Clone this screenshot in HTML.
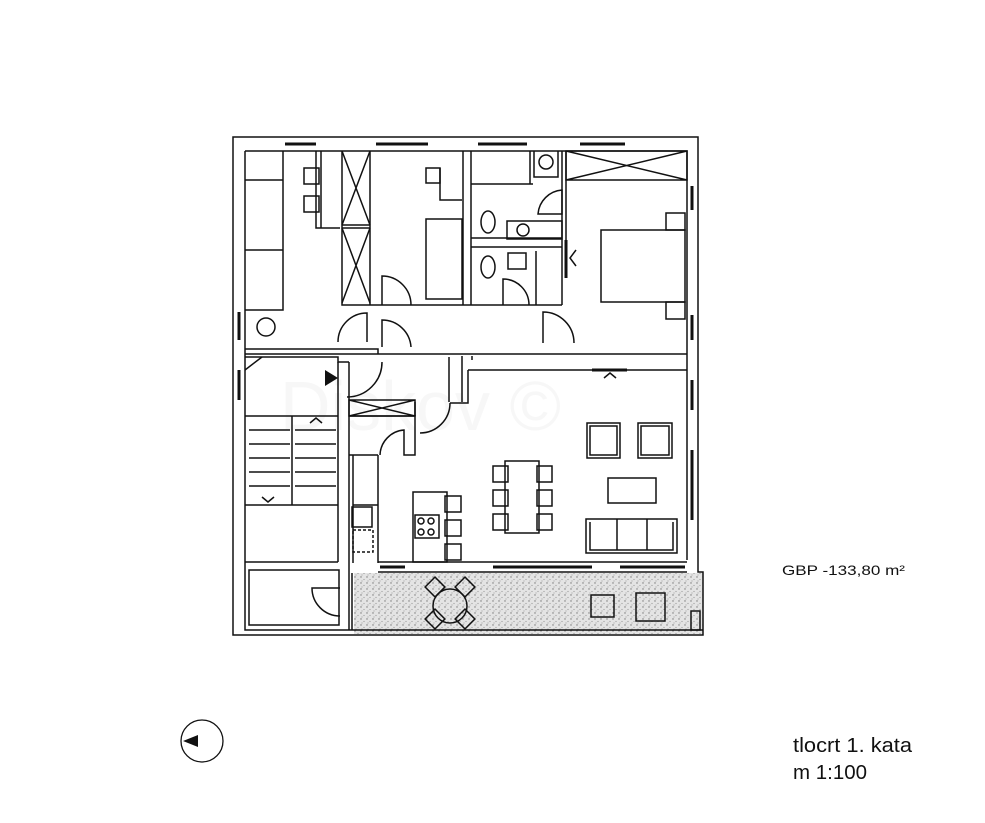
<!DOCTYPE html>
<html><head><meta charset="utf-8"><style>
html,body{margin:0;padding:0;background:#fff;}
svg{display:block;font-family:"Liberation Sans",Arial,sans-serif;}
</style></head><body>
<svg width="985" height="823" viewBox="0 0 985 823" xmlns="http://www.w3.org/2000/svg">
<defs>
<pattern id="dots" width="6" height="6" patternUnits="userSpaceOnUse">
<rect width="6" height="6" fill="#e4e4e4"/>
<circle cx="1" cy="1" r="0.7" fill="#777"/><circle cx="4" cy="3.5" r="0.6" fill="#999"/><circle cx="2" cy="5" r="0.5" fill="#888"/>
</pattern>
</defs>
<text x="280" y="430" font-size="70" fill="#f7f7f7">Diskov ©</text>
<g fill="none" stroke="#111" stroke-width="1.5">
<rect x="354" y="573" width="349" height="61" fill="url(#dots)" stroke="none"/>
<path d="M233,137 H698 V572 H703 V635 H233 Z"/>
<path d="M245,151 H687 V560 M245,151 V630 H352 V573 M352,630 H703"/>
<path d="M245,349 H378 V354 H687 M378,354 H245"/>
<path d="M245,357 H338 V362 H349 M462,356 V370 M468,370 H687 M472,356 V360"/>
<path d="M342,151 V305 H562 M370,151 V305 M463,151 V305 M471,151 V305 M562,151 V305 M566,151 V250"/>
<path d="M342,151 L370,225 M370,151 L342,225 M342,225 H370 M342,228 H370 M342,228 L370,303 M370,228 L342,303"/>
<path d="M245,250 H283 M245,180 H283 V310 H245 M283,180 V151"/>
<path d="M316,151 V228 H340 M316,228 H340 M321,151 V228"/>
<rect x="304" y="168" width="15" height="16"/><rect x="304" y="196" width="15" height="16"/>
<circle cx="266" cy="327" r="9"/>
<rect x="426" y="219" width="36" height="80"/>
<rect x="426" y="168" width="14" height="15"/>
<path d="M440,168 V200 H462"/>
<path d="M471,184 H530 V151 M530,184 H533 M534,151 V177 H558 V151"/>
<circle cx="546" cy="162" r="7"/>
<path d="M471,238 H562 M471,247 H562"/>
<rect x="507" y="221" width="55" height="18"/><circle cx="523" cy="230" r="6"/>
<rect x="508" y="253" width="18" height="16"/>
<ellipse cx="488" cy="222" rx="7" ry="11"/><ellipse cx="488" cy="267" rx="7" ry="11"/>
<path d="M536,251 V305"/>
<path d="M566,151 H687 V180 H566 Z M566,151 L687,180 M687,151 L566,180"/>
<rect x="601" y="230" width="84" height="72"/><rect x="666" y="213" width="19" height="17"/><rect x="666" y="302" width="19" height="17"/>
<path d="M566,240 V278" stroke-width="3"/><path d="M576,250 L570,258 L576,266"/>
<path d="M382,305 V276 A29,29 0 0 1 411,305"/>
<path d="M503,305 V279 A26,26 0 0 1 529,305"/>
<path d="M538,214 A26,26 0 0 1 562,190 V214 Z"/>
<path d="M367,342 V313 A29,29 0 0 0 338,342"/>
<path d="M382,347 V320 A29,29 0 0 1 411,347"/>
<path d="M543,343 V312 A31,31 0 0 1 574,343"/>
<path d="M338,362 V562 M245,562 H338 M349,362 V630 M245,416 H338 M292,416 V505 M245,505 H338"/>
<path d="M249,430 H290 M249,444 H290 M249,458 H290 M249,472 H290 M249,486 H290 M295,430 H336 M295,444 H336 M295,458 H336 M295,472 H336 M295,486 H336"/>
<path d="M310,423 L316,418 L322,423 M262,497 L268,502 L274,497"/>
<path d="M245,370 L262,357"/>
<path d="M249,570 H339 V625 H249 Z"/>
<path d="M340,588 H312 A28,28 0 0 0 340,616"/>
<path d="M382,362 A35,35 0 0 1 347,397"/>
<path d="M349,400 H415 V416 H349 Z M349,400 L415,416 M415,400 L349,416"/>
<path d="M349,416 H415 V455 H404 V430 A26,26 0 0 0 380,455 M378,455 H349"/>
<path d="M415,416 V402 M420,433 A30,30 0 0 0 450,403 M450,403 H468 V370"/>
<path d="M449,357 V402 M462,370 V402"/>
<path d="M353,455 V563 M378,455 V563 M353,505 H378"/>
<rect x="352" y="507" width="20" height="20"/>
<rect x="353" y="530" width="20" height="22" stroke-dasharray="3,2"/>
<rect x="413" y="492" width="34" height="70"/>
<rect x="415" y="515" width="24" height="23"/>
<circle cx="421" cy="521" r="3"/><circle cx="431" cy="521" r="3"/><circle cx="421" cy="532" r="3"/><circle cx="431" cy="532" r="3"/>
<rect x="445" y="496" width="16" height="16"/><rect x="445" y="520" width="16" height="16"/><rect x="445" y="544" width="16" height="16"/>
<rect x="505" y="461" width="34" height="72"/>
<rect x="493" y="466" width="15" height="16"/><rect x="493" y="490" width="15" height="16"/><rect x="493" y="514" width="15" height="16"/>
<rect x="537" y="466" width="15" height="16"/><rect x="537" y="490" width="15" height="16"/><rect x="537" y="514" width="15" height="16"/>
<rect x="587" y="423" width="33" height="35"/><rect x="590" y="426" width="27" height="29"/>
<rect x="638" y="423" width="34" height="35"/><rect x="641" y="426" width="28" height="29"/>
<rect x="608" y="478" width="48" height="25"/>
<rect x="586" y="519" width="91" height="34"/><path d="M590,522 V550 H673 V522 M617,519 V550 M647,519 V550"/>
<path d="M592,370 H627" stroke-width="3"/><path d="M604,378 L610,373 L616,378"/>
<g stroke-width="3">
<path d="M285,144 H316 M376,144 H428 M478,144 H527 M580,144 H625 M692,186 V210 M692,315 V340 M692,380 V410 M692,450 V520 M239,312 V340 M239,370 V400 M380,567 H405 M493,567 H592 M620,567 H685"/>
</g>
<path d="M378,562 H687 M378,572 H687"/>
<circle cx="450" cy="606" r="17"/>
<rect x="428" y="580" width="14" height="14" transform="rotate(45 435 587)"/>
<rect x="458" y="580" width="14" height="14" transform="rotate(45 465 587)"/>
<rect x="428" y="612" width="14" height="14" transform="rotate(45 435 619)"/>
<rect x="458" y="612" width="14" height="14" transform="rotate(45 465 619)"/>
<rect x="591" y="595" width="23" height="22"/>
<rect x="636" y="593" width="29" height="28"/>
<rect x="691" y="611" width="9" height="19"/>
<circle cx="202" cy="741" r="21" stroke-width="1.3"/>
</g>
<polygon points="325,370 338,378 325,386" fill="#111"/>
<polygon points="183,741 198,735 198,747" fill="#111"/>
<text x="782" y="575" font-size="14" fill="#111" textLength="123" lengthAdjust="spacingAndGlyphs">GBP -133,80 m²</text>
<text x="793" y="752" font-size="20" fill="#111" textLength="119" lengthAdjust="spacingAndGlyphs">tlocrt 1. kata</text>
<text x="793" y="779" font-size="20" fill="#111" textLength="74" lengthAdjust="spacingAndGlyphs">m 1:100</text>
</svg>
</body></html>
